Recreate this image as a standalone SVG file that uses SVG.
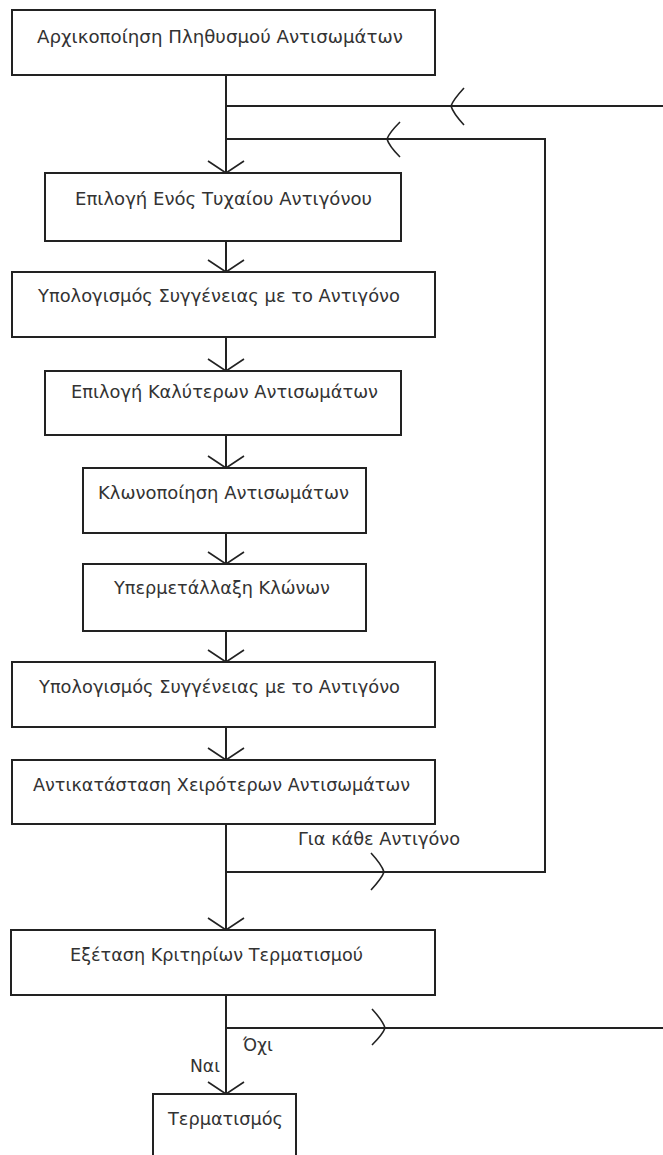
<svg xmlns="http://www.w3.org/2000/svg" width="663" height="1155" viewBox="0 0 663 1155">
<style>
.box{fill:#fff;stroke:#222;stroke-width:2}
.ln{fill:none;stroke:#222;stroke-width:2}
.ah{fill:none;stroke:#222;stroke-width:1.6}
text{font-family:"DejaVu Sans","Liberation Sans",sans-serif;font-size:17px;fill:#333}
</style>
<rect width="663" height="1155" fill="#fff"/>
<g id="connectors">
<path class="ln" d="M226,75V173M226,241V272M226,337V371M226,435V468M226,533V564M226,631V662M226,727V760M226,824V930M226,995V1094"/>
<path class="ln" d="M226,106H663M226,139H545V872H226M226,1028H663"/>
<path class="ah" d="M208,161L226,173L244,161M208,260L226,272L244,260M208,359L226,371L244,359M208,456L226,468L244,456M208,552L226,564L244,552M208,650L226,662L244,650M208,748L226,760L244,748M208,918L226,930L244,918M208,1082L226,1094L244,1082"/>
<path class="ah" d="M464,88Q453,100 451,106Q453,113 464,125M400,122Q389,133 387,139Q389,146 400,157M371,853Q382,865 384,872Q382,878 371,890M372,1009Q383,1021 385,1028Q383,1034 372,1045"/>
<text x="298" y="845" textLength="162" lengthAdjust="spacingAndGlyphs">Για κάθε Αντιγόνο</text>
<text x="243" y="1051" textLength="30" lengthAdjust="spacingAndGlyphs">Όχι</text>
<text x="190" y="1072" textLength="30" lengthAdjust="spacingAndGlyphs">Ναι</text>
</g>
<g id="n1"><rect class="box" x="12" y="10" width="423" height="65"/><text x="37" y="43" textLength="366" lengthAdjust="spacingAndGlyphs">Αρχικοποίηση Πληθυσμού Αντισωμάτων</text></g>
<g id="n2"><rect class="box" x="45" y="173" width="356" height="68"/><text x="75" y="205" textLength="297" lengthAdjust="spacingAndGlyphs">Επιλογή Ενός Τυχαίου Αντιγόνου</text></g>
<g id="n3"><rect class="box" x="12" y="272" width="423" height="65"/><text x="38" y="302" textLength="362" lengthAdjust="spacingAndGlyphs">Υπολογισμός Συγγένειας με το Αντιγόνο</text></g>
<g id="n4"><rect class="box" x="45" y="371" width="356" height="64"/><text x="71" y="398" textLength="307" lengthAdjust="spacingAndGlyphs">Επιλογή Καλύτερων Αντισωμάτων</text></g>
<g id="n5"><rect class="box" x="83" y="468" width="283" height="65"/><text x="98" y="499" textLength="251" lengthAdjust="spacingAndGlyphs">Κλωνοποίηση Αντισωμάτων</text></g>
<g id="n6"><rect class="box" x="83" y="564" width="283" height="67"/><text x="114" y="594" textLength="216" lengthAdjust="spacingAndGlyphs">Υπερμετάλλαξη Κλώνων</text></g>
<g id="n7"><rect class="box" x="12" y="662" width="423" height="65"/><text x="39" y="693" textLength="361" lengthAdjust="spacingAndGlyphs">Υπολογισμός Συγγένειας με το Αντιγόνο</text></g>
<g id="n8"><rect class="box" x="12" y="760" width="423" height="64"/><text x="33" y="791" textLength="377" lengthAdjust="spacingAndGlyphs">Αντικατάσταση Χειρότερων Αντισωμάτων</text></g>
<g id="n9"><rect class="box" x="11" y="930" width="424" height="65"/><text x="70" y="961" textLength="293" lengthAdjust="spacingAndGlyphs">Εξέταση Κριτηρίων Τερματισμού</text></g>
<g id="n10"><rect class="box" x="153" y="1094" width="143" height="70"/><text x="168" y="1125" textLength="115" lengthAdjust="spacingAndGlyphs">Τερματισμός</text></g>
</svg>
